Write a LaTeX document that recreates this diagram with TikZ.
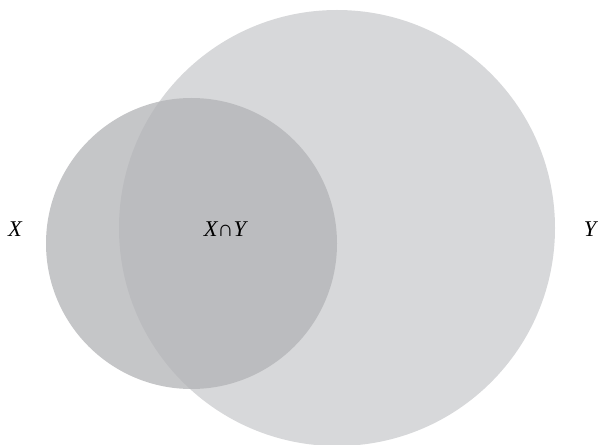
\documentclass[tikz,border=0pt]{standalone}
\usepackage{fontspec}
\setmainfont{Liberation Serif}
\usepackage{tikz}
\tikzset{
  setY/.style={fill={rgb,255:red,215;green,216;blue,218}},
  setX/.style={fill={rgb,255:red,178;green,179;blue,182}, fill opacity=0.75},
  setlabel/.style={font=\fontsize{16}{19}\selectfont\itshape, inner sep=0pt}
}
\begin{document}
\begin{tikzpicture}[x=0.025cm, y=-0.025cm]
    \useasboundingbox (0,0) rectangle (598,445);
    \fill[setY] (337,228) circle[radius=218];
    \fill[setX] (191.5,243.5) circle[radius=145.5];
    \node[setlabel] (lx) at (15,229) {X};
    \node[setlabel] (lxy) at (225,229) {X∩Y};
    \node[setlabel] (ly) at (590,229) {Y};
  \end{tikzpicture}
\end{document}
